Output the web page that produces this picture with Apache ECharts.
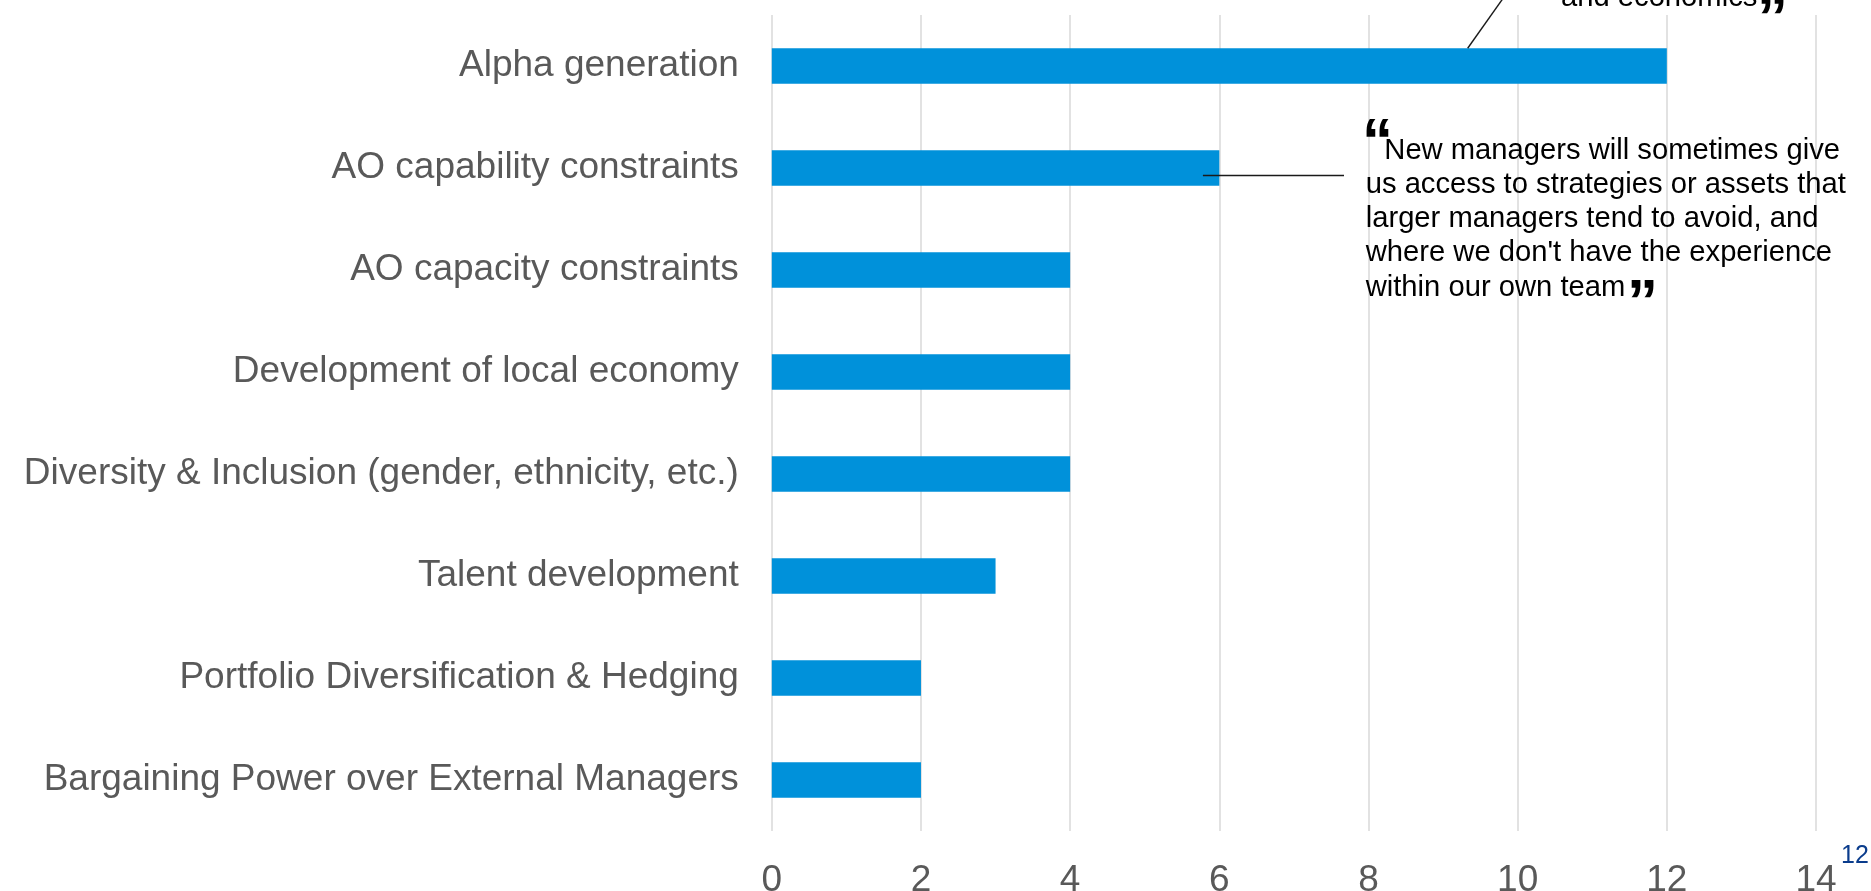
<!DOCTYPE html>
<html>
<head>
<meta charset="utf-8">
<script src="https://cdn.jsdelivr.net/npm/echarts@6/dist/echarts.min.js"></script>
<style>
  html, body { margin: 0; padding: 0; background: #ffffff; }
  #chart { width: 1871px; height: 891px; }
</style>
</head>
<body>
<div id="chart"></div>
<script>
// ---- data ----
const categories = [
  'Alpha generation',
  'AO capability constraints',
  'AO capacity constraints',
  'Development of local economy',
  'Diversity & Inclusion (gender, ethnicity, etc.)',
  'Talent development',
  'Portfolio Diversification & Hedging',
  'Bargaining Power over External Managers'
];
const values = [12, 6, 4, 4, 4, 3, 2, 2];
const xTicks = [0, 2, 4, 6, 8, 10, 12, 14];
const quoteLines = [
  'New managers will sometimes give',
  'us access to strategies or assets that',
  'larger managers tend to avoid, and',
  'where we don\'t have the experience',
  'within our own team'
];
const topQuoteLastLine = 'and economics';
const pageNumber = '12';

// ---- chart ----
const FONT = '"Liberation Sans", Arial, sans-serif';
const chart = echarts.init(document.getElementById('chart'), null, { renderer: 'canvas' });

const option = {
  animation: false,
  backgroundColor: '#ffffff',
  grid: { left: 771.8, right: 55, top: 15, bottom: 60, containLabel: false, outerBoundsMode: 'none' },
  xAxis: {
    type: 'value',
    min: xTicks[0],
    max: xTicks[xTicks.length - 1],
    interval: xTicks[1] - xTicks[0],
    axisLine: { show: false },
    axisTick: { show: false },
    splitLine: { show: true, lineStyle: { color: '#D9D9D9', width: 1.5 } },
    axisLabel: { color: '#595959', fontSize: 37, fontFamily: FONT, margin: 31 }
  },
  yAxis: {
    type: 'category',
    data: categories,
    inverse: true,
    axisLine: { show: false },
    axisTick: { show: false },
    splitLine: { show: false },
    axisLabel: { color: '#595959', fontSize: 37, fontFamily: FONT, margin: 33, padding: [5, 0, 0, 0] }
  },
  series: [{
    type: 'bar',
    data: values,
    barWidth: 35.5,
    itemStyle: { color: '#0091DA' },
    silent: true
  }]
};
chart.setOption(option);

// ---- annotations (anchored to the data scale) ----
const bar1Anchor = chart.convertToPixel({ gridIndex: 0 }, [9.33, 0]);
const bar2Anchor = chart.convertToPixel({ gridIndex: 0 }, [5.78, 1]);
const bar1Top = bar1Anchor[1] - 35.5 / 2;
const slope = 34 / 48;

const qStyle = { fill: '#000000', font: 'bold 62px ' + FONT, verticalAlign: 'top', align: 'left' };

chart.setOption({
  graphic: [
    // leader line to Alpha generation bar
    { type: 'line', silent: true, z: 100,
      shape: { x1: bar1Anchor[0], y1: bar1Top, x2: bar1Anchor[0] + slope * (bar1Top + 10), y2: -10 },
      style: { stroke: '#1a1a1a', lineWidth: 1.4 } },
    // leader line to AO capability constraints bar
    { type: 'line', silent: true, z: 100,
      shape: { x1: bar2Anchor[0], y1: bar2Anchor[1] + 7.5, x2: 1344, y2: bar2Anchor[1] + 7.5 },
      style: { stroke: '#1a1a1a', lineWidth: 1.4 } },
    // top quote (last line visible)
    { type: 'text', silent: true, z: 100, x: 1561, y: -1.7,
      style: { text: topQuoteLastLine, fill: '#000000', font: '29.2px ' + FONT, verticalAlign: 'middle', align: 'left' } },
    { type: 'text', silent: true, z: 100, x: 1757, y: -10,
      style: Object.assign({ text: '\u201D' }, qStyle) },
    // lower quote
    { type: 'text', silent: true, z: 100, x: 1362, y: 113,
      style: Object.assign({ text: '\u201C' }, qStyle) },
    { type: 'text', silent: true, z: 100, x: 1365.7, y: 150.5 - 34.3 / 2,
      style: {
        text: quoteLines.map((l, i) => i === 0 ? '{ind| }' + l : l).join('\n'),
        fill: '#000000', font: '29.2px ' + FONT, lineHeight: 34.3,
        verticalAlign: 'top', align: 'left',
        rich: { ind: { width: 18.6, fontSize: 29.2, fontFamily: FONT, lineHeight: 34.3 } }
      } },
    { type: 'text', silent: true, z: 100, x: 1627, y: 274,
      style: Object.assign({ text: '\u201D' }, qStyle) },
    // page number
    { type: 'text', silent: true, z: 100, x: 1841, y: 856,
      style: { text: pageNumber, fill: '#0A3C8C', font: '25px ' + FONT, verticalAlign: 'middle', align: 'left' } }
  ]
});
</script>
</body>
</html>
